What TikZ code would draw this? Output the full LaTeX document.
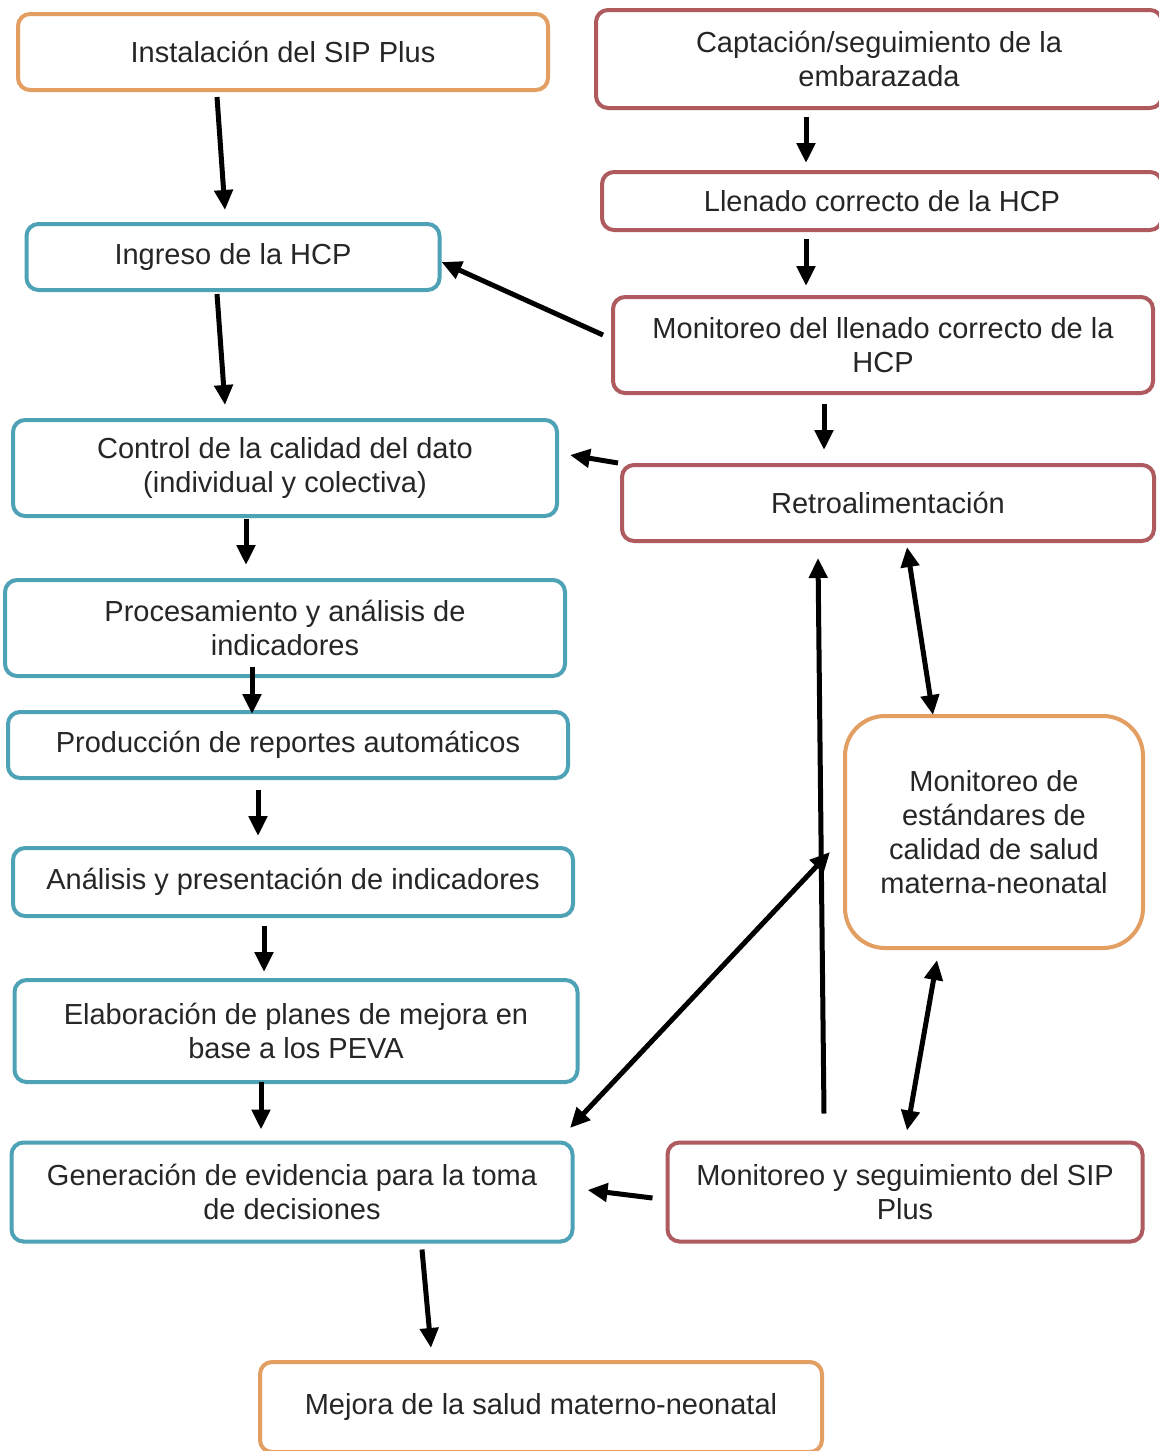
\documentclass[tikz,border=0pt]{standalone}
\usepackage{fontspec}
\setmainfont{Liberation Sans}
\usetikzlibrary{arrows.meta,calc}
\definecolor{cOrange}{HTML}{E39E62}
\definecolor{cRed}{HTML}{AE5A5F}
\definecolor{cBlue}{HTML}{4DA2B6}
\definecolor{cText}{HTML}{262626}
\begin{document}
\begin{tikzpicture}[x=0.5pt,y=-0.5pt,
  box/.style={draw,line width=2pt,rounded corners=6pt,fill=white,align=center,
    text=cText,inner sep=0pt,font=\fontsize{14.5pt}{17pt}\selectfont},
  obox/.style={box,draw=cOrange},
  rbox/.style={box,draw=cRed},
  bbox/.style={box,draw=cBlue},
  arr/.style={line width=2.5pt,-{Triangle[length=10pt,width=9pt]}},
  darr/.style={line width=2.5pt,{Triangle[length=10pt,width=9pt]}-{Triangle[length=10pt,width=9pt]}}
]
\useasboundingbox[fill=white] (0,0) rectangle (1159,1451);

% nodes
\node[obox,minimum width=265pt,minimum height=38pt] (inst) at (283,52) {Instalación del SIP Plus};
\node[rbox,minimum width=283pt,minimum height=49pt] (capt) at (879,59) {Captación/seguimiento de la\\embarazada};
\node[rbox,minimum width=280pt,minimum height=29pt] (llen) at (882,201) {Llenado correcto de la HCP};
\node[bbox,minimum width=206.5pt,minimum height=33pt] (ingr) at (233,257) {Ingreso de la HCP};
\node[rbox,minimum width=270pt,minimum height=48pt] (monl) at (883,345) {Monitoreo del llenado correcto de la\\HCP};
\node[bbox,minimum width=272pt,minimum height=48pt] (ctrl) at (285,468) {Control de la calidad del dato\\(individual y colectiva)};
\node[rbox,minimum width=266pt,minimum height=38pt] (retro) at (888,503) {Retroalimentación};
\node[bbox,minimum width=280pt,minimum height=48pt] (proc) at (285,628) {Procesamiento y análisis de\\indicadores};
\node[bbox,minimum width=280pt,minimum height=33pt] (prod) at (288,745) {Producción de reportes automáticos};
\node[bbox,minimum width=280pt,minimum height=34pt] (anal) at (293,882) {Análisis y presentación de indicadores};
\node[obox,rounded corners=20pt,minimum width=149pt,minimum height=116pt] (std) at (994,832) {Monitoreo de\\estándares de\\calidad de salud\\materna-neonatal};
\node[bbox,minimum width=281.5pt,minimum height=51pt] (elab) at (296,1031) {Elaboración de planes de mejora en\\base a los PEVA};
\node[bbox,minimum width=280.5pt,minimum height=49.5pt] (gen) at (292,1192) {Generación de evidencia para la toma\\de decisiones};
\node[rbox,minimum width=237.5pt,minimum height=49.5pt] (msip) at (905,1192) {Monitoreo y seguimiento del SIP\\Plus};
\node[obox,minimum width=281pt,minimum height=45pt] (mej) at (541,1407) {Mejora de la salud materno-neonatal};

% connectors
\draw[arr] ($(inst.south)+(-66,5)$) -- ($(ingr.north)+(-8,-12)$);
\draw[arr] ($(ingr.south)+(-16,2)$) -- ($(ctrl.north)+(-60,-13)$);
\draw[arr] ($(capt.south)+(-73,7)$) -- ($(llen.north)+(-76,-7)$);
\draw[arr] ($(llen.south)+(-76,7)$) -- ($(monl.north)+(-77,-9)$);
\draw[arr] ($(monl.west)+(-8,-10)$) -- ($(ingr.east)+(0,5)$);
\draw[arr] ($(monl.south)+(-59,9)$) -- ($(retro.north)+(-64,-13)$);
\draw[arr] ($(retro.west)+(-2,-40)$) -- ($(ctrl.east)+(11,-13)$);
\draw[arr] ($(ctrl.south)+(-39,1)$) -- ($(proc.north)+(-39,-13)$);
\draw[arr] ($(proc.south)+(-33,-11)$) -- ($(prod.north)+(-36,4)$);
\draw[arr] ($(prod.south)+(-30,10)$) -- ($(anal.north)+(-35,-10)$);
\draw[arr] ($(anal.south)+(-29,8)$) -- ($(elab.north)+(-32,-6)$);
\draw[arr] ($(elab.south)+(-35,-2)$) -- ($(gen.north)+(-31,-11)$);
\draw[arr] ($(gen.south)+(130,6)$) -- ($(mej.north)+(-110,-12)$);
\draw[arr] ($(msip.west)+(-13,6)$) -- ($(gen.east)+(13,-2)$);
\draw[arr] ($(msip.north)+(-81,-27)$) -- ($(retro.south)+(-70,15)$);
\draw[darr] ($(retro.south)+(19,4)$) -- ($(std.north)+(-61,1)$);
\draw[darr] ($(std.south)+(-57,10)$) -- ($(msip.north)+(2,-10)$);
\draw[darr] ($(std.west)+(-13,20)$) -- ($(gen.north east)+(-4.5,-12.5)$);
\end{tikzpicture}
\end{document}
